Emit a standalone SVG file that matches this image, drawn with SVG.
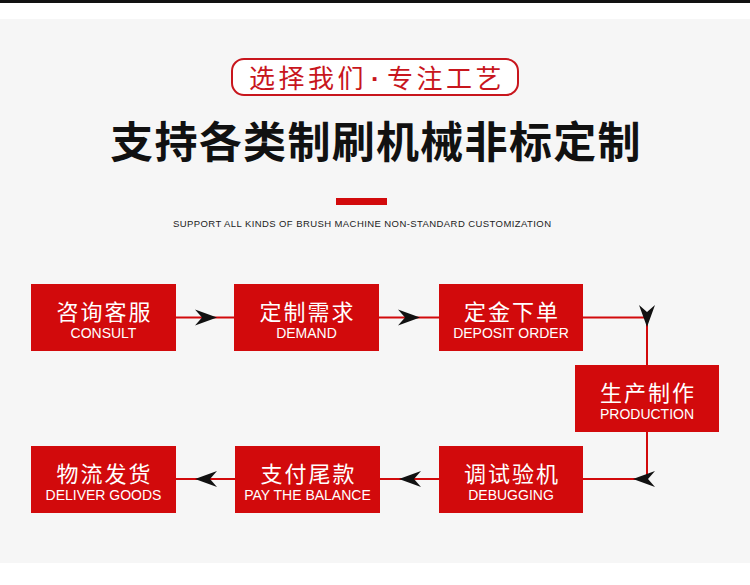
<svg xmlns="http://www.w3.org/2000/svg" xmlns:xlink="http://www.w3.org/1999/xlink" width="750" height="585" viewBox="0 0 750 585">
<style>
.box{fill:#d20a0c;}
.cn{font-family:"Noto Sans CJK SC","Noto Sans",sans-serif;font-size:22px;fill:#ffffff;text-anchor:middle;letter-spacing:2px;}
.en{font-family:"Liberation Sans",Arial,sans-serif;font-size:14px;fill:#ffffff;text-anchor:middle;}
.ln{stroke:#d20a0c;stroke-width:2;fill:none;}
.ah{fill:#111111;}
</style>
<defs>
<path id="ah" d="M0,0 L-22,-8 L-15,0 L-22,8 Z"/>
</defs>
<rect x="0" y="0" width="750" height="585" fill="#ffffff"/>
<rect x="0" y="0" width="750" height="3" fill="#111111"/>
<rect x="0" y="19" width="750" height="544" fill="#f6f6f6"/>

<g id="header">
<rect x="232" y="59" width="286" height="36" rx="12" fill="#ffffff" stroke="#c8161d" stroke-width="2"/>
<text x="377" y="88" font-family="'Noto Sans CJK SC',sans-serif" font-size="26" font-weight="400" fill="#c8161d" text-anchor="middle" letter-spacing="3.5">选择我们<tspan dx="4" font-family="'Liberation Sans',sans-serif" font-weight="700">·</tspan><tspan dx="4">专注工艺</tspan></text>
<text x="376" y="158" font-family="'Noto Sans CJK SC',sans-serif" font-size="43" font-weight="700" fill="#111111" text-anchor="middle" letter-spacing="1.3">支持各类制刷机械非标定制</text>
<rect x="336" y="198" width="51" height="7" fill="#d20a0c"/>
<text x="362" y="227" font-family="'Liberation Sans',Arial,sans-serif" font-size="9.5" fill="#222222" text-anchor="middle" textLength="378" lengthAdjust="spacing">SUPPORT ALL KINDS OF BRUSH MACHINE NON-STANDARD CUSTOMIZATION</text>
</g>

<g id="connectors">
<line class="ln" x1="176" y1="317.5" x2="234" y2="317.5"/>
<line class="ln" x1="379" y1="317.5" x2="439" y2="317.5"/>
<polyline class="ln" points="583,317.5 647,317.5 647,365"/>
<polyline class="ln" points="647,432 647,479 583,479"/>
<line class="ln" x1="379" y1="479" x2="439" y2="479"/>
<line class="ln" x1="176" y1="479" x2="235" y2="479"/>
<use href="#ah" class="ah" transform="translate(217,317.5)"/>
<use href="#ah" class="ah" transform="translate(420,317.5)"/>
<use href="#ah" class="ah" transform="translate(647,327) rotate(90)"/>
<use href="#ah" class="ah" transform="translate(633,479) rotate(180)"/>
<use href="#ah" class="ah" transform="translate(399,479) rotate(180)"/>
<use href="#ah" class="ah" transform="translate(195,479) rotate(180)"/>
</g>

<g id="n1"><rect class="box" x="31" y="284" width="145" height="67"/><text class="cn" x="104.5" y="320">咨询客服</text><text class="en" x="103.5" y="338">CONSULT</text></g>
<g id="n2"><rect class="box" x="234" y="284" width="145" height="67"/><text class="cn" x="307.5" y="320">定制需求</text><text class="en" x="306.5" y="338">DEMAND</text></g>
<g id="n3"><rect class="box" x="439" y="284" width="144" height="67"/><text class="cn" x="512" y="320">定金下单</text><text class="en" x="511" y="338">DEPOSIT ORDER</text></g>
<g id="n4"><rect class="box" x="575" y="365" width="144" height="67"/><text class="cn" x="648" y="400.5">生产制作</text><text class="en" x="647" y="418.5">PRODUCTION</text></g>
<g id="n5"><rect class="box" x="439" y="446" width="144" height="67"/><text class="cn" x="512" y="481.5">调试验机</text><text class="en" x="511" y="499.5">DEBUGGING</text></g>
<g id="n6"><rect class="box" x="235" y="446" width="145" height="67"/><text class="cn" x="308.5" y="481.5">支付尾款</text><text class="en" x="307.5" y="499.5">PAY THE BALANCE</text></g>
<g id="n7"><rect class="box" x="31" y="446" width="145" height="67"/><text class="cn" x="104.5" y="481.5">物流发货</text><text class="en" x="103.5" y="499.5">DELIVER GOODS</text></g>
</svg>
